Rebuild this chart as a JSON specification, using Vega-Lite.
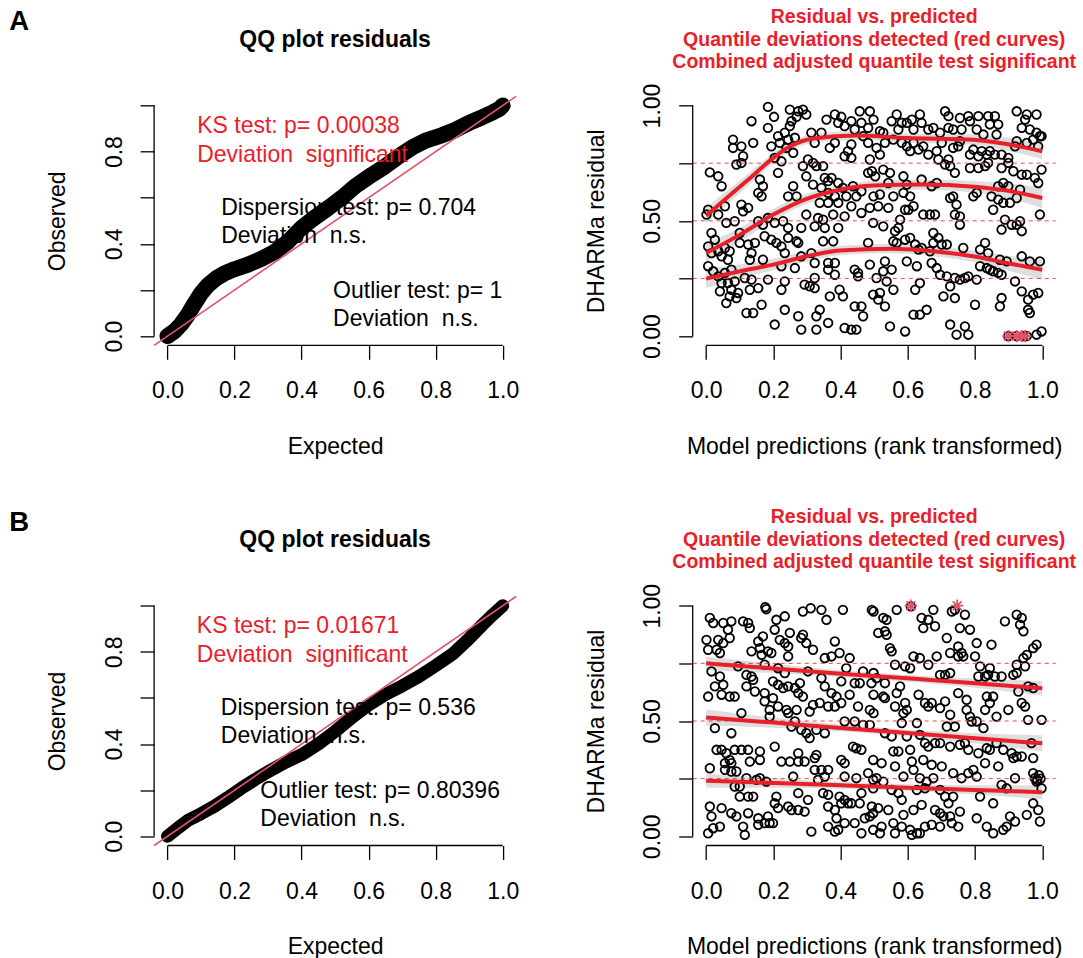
{
"$schema":"https://vega.github.io/schema/vega-lite/v6.json",
"autosize":{"type":"pad"},
"padding":{"left":9.1,"top":6.3,"right":4,"bottom":0},
"config":{"view":{"stroke":null},"font":"Liberation Sans","text":{"font":"Liberation Sans"},
"axis":{"domain":false,"grid":false,"ticks":true,"tickSize":14,"tickWidth":1.3,"tickColor":"#000000","labelFont":"Liberation Sans","labelFontSize":23,"labelColor":"#000000","labelOverlap":false,"labelFlush":false,"labelBound":false,"titleFont":"Liberation Sans","titleFontSize":23,"titleFontWeight":"normal","titleColor":"#000000"}},
"datasets":{
"qqA":[{"x":0,"y":0},{"x":0.02,"y":0.02},{"x":0.04,"y":0.05},{"x":0.06,"y":0.09},{"x":0.08,"y":0.14},{"x":0.1,"y":0.185},{"x":0.12,"y":0.22},{"x":0.145,"y":0.25},{"x":0.17,"y":0.272},{"x":0.2,"y":0.29},{"x":0.24,"y":0.31},{"x":0.28,"y":0.335},{"x":0.32,"y":0.365},{"x":0.36,"y":0.41},{"x":0.4,"y":0.47},{"x":0.44,"y":0.515},{"x":0.48,"y":0.556},{"x":0.52,"y":0.6},{"x":0.56,"y":0.65},{"x":0.61,"y":0.7},{"x":0.65,"y":0.737},{"x":0.69,"y":0.78},{"x":0.73,"y":0.818},{"x":0.77,"y":0.848},{"x":0.82,"y":0.872},{"x":0.86,"y":0.895},{"x":0.9,"y":0.925},{"x":0.94,"y":0.95},{"x":0.97,"y":0.97},{"x":0.99,"y":0.985},{"x":1,"y":1}],
"qqB":[{"x":0,"y":0},{"x":0.03,"y":0.035},{"x":0.06,"y":0.068},{"x":0.1,"y":0.098},{"x":0.14,"y":0.13},{"x":0.18,"y":0.168},{"x":0.22,"y":0.208},{"x":0.26,"y":0.245},{"x":0.3,"y":0.28},{"x":0.35,"y":0.32},{"x":0.4,"y":0.354},{"x":0.45,"y":0.4},{"x":0.5,"y":0.455},{"x":0.55,"y":0.515},{"x":0.6,"y":0.57},{"x":0.65,"y":0.615},{"x":0.7,"y":0.652},{"x":0.75,"y":0.693},{"x":0.8,"y":0.74},{"x":0.85,"y":0.79},{"x":0.9,"y":0.858},{"x":0.94,"y":0.918},{"x":0.97,"y":0.96},{"x":1,"y":1}],
"annA":[{"x":0.0886,"y":0.882,"t":"KS test: p= 0.00038","kind":"sig"},{"x":0.0886,"y":0.756,"t":"Deviation \u00a0significant","kind":"sig"},{"x":0.16,"y":0.525,"t":"Dispersion test: p= 0.704","kind":"ns"},{"x":0.16,"y":0.404,"t":"Deviation \u00a0n.s.","kind":"ns"},{"x":0.494,"y":0.1666,"t":"Outlier test: p= 1","kind":"ns"},{"x":0.494,"y":0.0438,"t":"Deviation \u00a0n.s.","kind":"ns"}],
"annB":[{"x":0.0875,"y":0.882,"t":"KS test: p= 0.01671","kind":"sig"},{"x":0.0875,"y":0.756,"t":"Deviation \u00a0significant","kind":"sig"},{"x":0.159,"y":0.525,"t":"Dispersion test: p= 0.536","kind":"ns"},{"x":0.159,"y":0.404,"t":"Deviation \u00a0n.s.","kind":"ns"},{"x":0.277,"y":0.1666,"t":"Outlier test: p= 0.80396","kind":"ns"},{"x":0.277,"y":0.0438,"t":"Deviation \u00a0n.s.","kind":"ns"}],
"qA":[{"q":"0.75","x":0,"y":0.522,"lo":0.487,"hi":0.557},{"q":"0.75","x":0.061,"y":0.599,"lo":0.569,"hi":0.629},{"q":"0.75","x":0.131,"y":0.686,"lo":0.661,"hi":0.711},{"q":"0.75","x":0.2,"y":0.773,"lo":0.751,"hi":0.795},{"q":"0.75","x":0.25,"y":0.823,"lo":0.803,"hi":0.843},{"q":"0.75","x":0.319,"y":0.857,"lo":0.837,"hi":0.877},{"q":"0.75","x":0.448,"y":0.87,"lo":0.85,"hi":0.89},{"q":"0.75","x":0.597,"y":0.859,"lo":0.839,"hi":0.879},{"q":"0.75","x":0.795,"y":0.852,"lo":0.83,"hi":0.874},{"q":"0.75","x":0.894,"y":0.833,"lo":0.805,"hi":0.861},{"q":"0.75","x":1,"y":0.802,"lo":0.767,"hi":0.837},
{"q":"0.5","x":0,"y":0.36,"lo":0.32,"hi":0.4},{"q":"0.5","x":0.101,"y":0.44,"lo":0.41,"hi":0.47},{"q":"0.5","x":0.2,"y":0.527,"lo":0.502,"hi":0.552},{"q":"0.5","x":0.299,"y":0.595,"lo":0.573,"hi":0.617},{"q":"0.5","x":0.398,"y":0.635,"lo":0.615,"hi":0.655},{"q":"0.5","x":0.498,"y":0.653,"lo":0.633,"hi":0.673},{"q":"0.5","x":0.646,"y":0.657,"lo":0.635,"hi":0.679},{"q":"0.5","x":0.795,"y":0.648,"lo":0.623,"hi":0.673},{"q":"0.5","x":0.894,"y":0.631,"lo":0.599,"hi":0.663},{"q":"0.5","x":1,"y":0.599,"lo":0.554,"hi":0.644},
{"q":"0.25","x":0,"y":0.249,"lo":0.209,"hi":0.289},{"q":"0.25","x":0.101,"y":0.281,"lo":0.251,"hi":0.311},{"q":"0.25","x":0.2,"y":0.31,"lo":0.285,"hi":0.335},{"q":"0.25","x":0.299,"y":0.346,"lo":0.324,"hi":0.368},{"q":"0.25","x":0.398,"y":0.371,"lo":0.351,"hi":0.391},{"q":"0.25","x":0.547,"y":0.379,"lo":0.359,"hi":0.399},{"q":"0.25","x":0.696,"y":0.365,"lo":0.343,"hi":0.387},{"q":"0.25","x":0.795,"y":0.346,"lo":0.321,"hi":0.371},{"q":"0.25","x":0.894,"y":0.317,"lo":0.285,"hi":0.349},{"q":"0.25","x":1,"y":0.288,"lo":0.243,"hi":0.333}],
"qB":[{"q":"0.75","x":0,"y":0.75,"lo":0.72,"hi":0.78},{"q":"0.75","x":0.2,"y":0.728,"lo":0.708,"hi":0.748},{"q":"0.75","x":0.4,"y":0.705,"lo":0.69,"hi":0.72},{"q":"0.75","x":0.6,"y":0.685,"lo":0.67,"hi":0.7},{"q":"0.75","x":0.8,"y":0.664,"lo":0.644,"hi":0.684},{"q":"0.75","x":1,"y":0.642,"lo":0.61,"hi":0.674},
{"q":"0.5","x":0,"y":0.515,"lo":0.48,"hi":0.55},{"q":"0.5","x":0.2,"y":0.493,"lo":0.471,"hi":0.515},{"q":"0.5","x":0.4,"y":0.47,"lo":0.455,"hi":0.485},{"q":"0.5","x":0.6,"y":0.448,"lo":0.433,"hi":0.463},{"q":"0.5","x":0.8,"y":0.425,"lo":0.403,"hi":0.447},{"q":"0.5","x":1,"y":0.403,"lo":0.368,"hi":0.438},
{"q":"0.25","x":0,"y":0.241,"lo":0.211,"hi":0.271},{"q":"0.25","x":0.2,"y":0.231,"lo":0.211,"hi":0.251},{"q":"0.25","x":0.4,"y":0.221,"lo":0.206,"hi":0.236},{"q":"0.25","x":0.6,"y":0.211,"lo":0.196,"hi":0.226},{"q":"0.25","x":0.8,"y":0.201,"lo":0.181,"hi":0.221},{"q":"0.25","x":1,"y":0.191,"lo":0.161,"hi":0.221}],
"stA":[{"x":0.899,"y":0},{"x":0.924,"y":0},{"x":0.939,"y":0},{"x":0.949,"y":0}],
"stB":[{"x":0.609,"y":1},{"x":0.747,"y":1}],
"hl":[{"y":0.25},{"y":0.5},{"y":0.75}],
"scA":[{"x":0.184,"y":0.994},{"x":0.135,"y":0.932},{"x":0.202,"y":0.951},{"x":0.184,"y":0.903},{"x":0.249,"y":0.982},{"x":0.274,"y":0.975},{"x":0.288,"y":0.982},{"x":0.269,"y":0.951},{"x":0.254,"y":0.932},{"x":0.298,"y":0.961},{"x":0.249,"y":0.911},{"x":0.358,"y":0.939},{"x":0.383,"y":0.961},{"x":0.402,"y":0.951},{"x":0.393,"y":0.925},{"x":0.412,"y":0.911},{"x":0.432,"y":0.932},{"x":0.457,"y":0.975},{"x":0.487,"y":0.975},{"x":0.462,"y":0.925},{"x":0.482,"y":0.903},{"x":0.442,"y":0.896},
{"x":0.08,"y":0.852},{"x":0.105,"y":0.823},{"x":0.08,"y":0.816},{"x":0.14,"y":0.838},{"x":0.11,"y":0.78},{"x":0.09,"y":0.744},{"x":0.105,"y":0.751},{"x":0.194,"y":0.823},{"x":0.214,"y":0.867},{"x":0.234,"y":0.882},{"x":0.219,"y":0.838},{"x":0.264,"y":0.86},{"x":0.239,"y":0.816},{"x":0.244,"y":0.852},{"x":0.204,"y":0.773},{"x":0.224,"y":0.758},{"x":0.259,"y":0.795},{"x":0.313,"y":0.882},{"x":0.343,"y":0.882},{"x":0.323,"y":0.838},{"x":0.368,"y":0.816},{"x":0.383,"y":0.838},{"x":0.432,"y":0.831},{"x":0.412,"y":0.78},{"x":0.432,"y":0.773},{"x":0.422,"y":0.802},{"x":0.487,"y":0.766},{"x":0.482,"y":0.838},{"x":0.467,"y":0.867},{"x":0.303,"y":0.766},{"x":0.318,"y":0.751},{"x":0.288,"y":0.737},{"x":0.328,"y":0.737},{"x":0.348,"y":0.737},{"x":0.214,"y":0.708},
{"x":0.011,"y":0.71},{"x":0.036,"y":0.693},{"x":0.046,"y":0.65},{"x":0.16,"y":0.679},{"x":0.169,"y":0.65},{"x":0.155,"y":0.621},{"x":0.165,"y":0.606},{"x":0.298,"y":0.693},{"x":0.318,"y":0.657},{"x":0.353,"y":0.686},{"x":0.363,"y":0.672},{"x":0.373,"y":0.686},{"x":0.393,"y":0.664},{"x":0.407,"y":0.643},{"x":0.437,"y":0.65},{"x":0.462,"y":0.628},{"x":0.482,"y":0.708},{"x":0.259,"y":0.65},{"x":0.244,"y":0.606},{"x":0.269,"y":0.606},{"x":0.343,"y":0.643},{"x":0.363,"y":0.621},{"x":0.383,"y":0.606},
{"x":0.006,"y":0.548},{"x":0.001,"y":0.527},{"x":0.036,"y":0.527},{"x":0.056,"y":0.563},{"x":0.105,"y":0.57},{"x":0.125,"y":0.556},{"x":0.11,"y":0.541},{"x":0.085,"y":0.498},{"x":0.06,"y":0.491},{"x":0.155,"y":0.498},{"x":0.169,"y":0.483},{"x":0.184,"y":0.512},{"x":0.204,"y":0.491},{"x":0.229,"y":0.498},{"x":0.244,"y":0.469},{"x":0.298,"y":0.527},{"x":0.333,"y":0.512},{"x":0.348,"y":0.505},{"x":0.378,"y":0.527},{"x":0.412,"y":0.519},{"x":0.432,"y":0.563},{"x":0.462,"y":0.534},{"x":0.487,"y":0.556},{"x":0.497,"y":0.491},{"x":0.283,"y":0.469},{"x":0.323,"y":0.476},{"x":0.353,"y":0.469},{"x":0.393,"y":0.469},{"x":0.338,"y":0.578},{"x":0.363,"y":0.578},{"x":0.393,"y":0.578},{"x":0.417,"y":0.606},{"x":0.447,"y":0.606},
{"x":0.016,"y":0.447},{"x":0.026,"y":0.418},{"x":0.006,"y":0.389},{"x":0.016,"y":0.36},{"x":0.036,"y":0.368},{"x":0.056,"y":0.382},{"x":0.07,"y":0.368},{"x":0.046,"y":0.346},{"x":0.065,"y":0.331},{"x":0.1,"y":0.447},{"x":0.1,"y":0.404},{"x":0.125,"y":0.397},{"x":0.145,"y":0.404},{"x":0.135,"y":0.36},{"x":0.13,"y":0.331},{"x":0.169,"y":0.331},{"x":0.174,"y":0.433},{"x":0.194,"y":0.418},{"x":0.209,"y":0.404},{"x":0.224,"y":0.389},{"x":0.234,"y":0.36},{"x":0.244,"y":0.426},{"x":0.269,"y":0.411},{"x":0.274,"y":0.404},{"x":0.283,"y":0.346},{"x":0.313,"y":0.36},{"x":0.323,"y":0.317},{"x":0.348,"y":0.411},{"x":0.378,"y":0.411},{"x":0.383,"y":0.317},{"x":0.482,"y":0.404},{"x":0.487,"y":0.31},{"x":0.442,"y":0.288},{"x":0.264,"y":0.295},{"x":0.224,"y":0.303},{"x":0.363,"y":0.317},{"x":0.363,"y":0.288},
{"x":0.006,"y":0.303},{"x":0.021,"y":0.281},{"x":0.036,"y":0.259},{"x":0.056,"y":0.274},{"x":0.075,"y":0.288},{"x":0.046,"y":0.23},{"x":0.065,"y":0.23},{"x":0.085,"y":0.237},{"x":0.041,"y":0.194},{"x":0.075,"y":0.201},{"x":0.07,"y":0.172},{"x":0.095,"y":0.187},{"x":0.115,"y":0.252},{"x":0.135,"y":0.245},{"x":0.13,"y":0.201},{"x":0.155,"y":0.208},{"x":0.184,"y":0.245},{"x":0.224,"y":0.201},{"x":0.234,"y":0.237},{"x":0.293,"y":0.223},{"x":0.308,"y":0.216},{"x":0.323,"y":0.208},{"x":0.323,"y":0.252},{"x":0.383,"y":0.266},{"x":0.452,"y":0.274},{"x":0.452,"y":0.259},{"x":0.397,"y":0.201},{"x":0.407,"y":0.172},{"x":0.497,"y":0.18},{"x":0.368,"y":0.172},
{"x":0.06,"y":0.143},{"x":0.09,"y":0.165},{"x":0.12,"y":0.1},{"x":0.14,"y":0.1},{"x":0.165,"y":0.136},{"x":0.234,"y":0.114},{"x":0.274,"y":0.086},{"x":0.328,"y":0.086},{"x":0.338,"y":0.114},{"x":0.363,"y":0.057},{"x":0.204,"y":0.05},{"x":0.283,"y":0.028},{"x":0.328,"y":0.028},{"x":0.412,"y":0.035},{"x":0.432,"y":0.028},{"x":0.447,"y":0.028},{"x":0.442,"y":0.129},{"x":0.462,"y":0.129},{"x":0.467,"y":0.086},
{"x":0.498,"y":0.939},{"x":0.567,"y":0.961},{"x":0.582,"y":0.925},{"x":0.552,"y":0.932},{"x":0.597,"y":0.925},{"x":0.612,"y":0.939},{"x":0.636,"y":0.961},{"x":0.641,"y":0.925},{"x":0.661,"y":0.896},{"x":0.711,"y":0.975},{"x":0.721,"y":0.954},{"x":0.755,"y":0.946},{"x":0.78,"y":0.954},{"x":0.785,"y":0.932},{"x":0.81,"y":0.954},{"x":0.839,"y":0.954},{"x":0.859,"y":0.954},{"x":0.844,"y":0.918},{"x":0.869,"y":0.918},{"x":0.924,"y":0.975},{"x":0.949,"y":0.939},{"x":0.954,"y":0.961},{"x":0.983,"y":0.961},{"x":0.939,"y":0.903},{"x":0.963,"y":0.896},{"x":0.983,"y":0.882},{"x":0.998,"y":0.867},{"x":0.527,"y":0.882},{"x":0.517,"y":0.889},{"x":0.572,"y":0.896},{"x":0.617,"y":0.896},{"x":0.676,"y":0.903},{"x":0.696,"y":0.882},{"x":0.721,"y":0.903},{"x":0.735,"y":0.896},{"x":0.76,"y":0.896},{"x":0.805,"y":0.896},{"x":0.825,"y":0.874},{"x":0.864,"y":0.874},
{"x":0.507,"y":0.816},{"x":0.517,"y":0.787},{"x":0.532,"y":0.838},{"x":0.557,"y":0.852},{"x":0.582,"y":0.838},{"x":0.597,"y":0.823},{"x":0.617,"y":0.838},{"x":0.632,"y":0.809},{"x":0.607,"y":0.802},{"x":0.646,"y":0.823},{"x":0.661,"y":0.787},{"x":0.686,"y":0.802},{"x":0.701,"y":0.838},{"x":0.735,"y":0.816},{"x":0.755,"y":0.845},{"x":0.75,"y":0.823},{"x":0.785,"y":0.787},{"x":0.795,"y":0.809},{"x":0.81,"y":0.78},{"x":0.82,"y":0.802},{"x":0.835,"y":0.787},{"x":0.844,"y":0.802},{"x":0.859,"y":0.787},{"x":0.879,"y":0.787},{"x":0.899,"y":0.773},{"x":0.919,"y":0.823},{"x":0.924,"y":0.845},{"x":0.954,"y":0.838},{"x":0.973,"y":0.852},{"x":0.988,"y":0.823},{"x":0.993,"y":0.867},{"x":0.691,"y":0.766},{"x":0.721,"y":0.766},{"x":0.726,"y":0.737},{"x":0.74,"y":0.708},{"x":0.711,"y":0.744},
{"x":0.493,"y":0.715},{"x":0.503,"y":0.693},{"x":0.527,"y":0.722},{"x":0.547,"y":0.708},{"x":0.542,"y":0.664},{"x":0.587,"y":0.693},{"x":0.597,"y":0.657},{"x":0.641,"y":0.679},{"x":0.671,"y":0.65},{"x":0.686,"y":0.664},{"x":0.785,"y":0.729},{"x":0.81,"y":0.729},{"x":0.83,"y":0.737},{"x":0.839,"y":0.751},{"x":0.879,"y":0.729},{"x":0.899,"y":0.751},{"x":0.914,"y":0.715},{"x":0.939,"y":0.7},{"x":0.954,"y":0.7},{"x":0.978,"y":0.686},{"x":0.988,"y":0.664},{"x":0.998,"y":0.722},{"x":0.884,"y":0.664},{"x":0.869,"y":0.65},{"x":0.899,"y":0.65},{"x":0.934,"y":0.635},{"x":0.498,"y":0.606},{"x":0.517,"y":0.614},{"x":0.557,"y":0.606},{"x":0.587,"y":0.621},{"x":0.607,"y":0.606},{"x":0.735,"y":0.606},{"x":0.795,"y":0.606},{"x":0.805,"y":0.621},{"x":0.849,"y":0.606},{"x":0.869,"y":0.592},
{"x":0.512,"y":0.563},{"x":0.542,"y":0.556},{"x":0.592,"y":0.548},{"x":0.602,"y":0.548},{"x":0.617,"y":0.563},{"x":0.646,"y":0.527},{"x":0.666,"y":0.527},{"x":0.681,"y":0.527},{"x":0.726,"y":0.599},{"x":0.745,"y":0.57},{"x":0.74,"y":0.527},{"x":0.755,"y":0.519},{"x":0.755,"y":0.483},{"x":0.854,"y":0.548},{"x":0.884,"y":0.578},{"x":0.904,"y":0.578},{"x":0.924,"y":0.599},{"x":0.993,"y":0.527},{"x":0.889,"y":0.505},{"x":0.909,"y":0.483},{"x":0.924,"y":0.483},{"x":0.934,"y":0.498},{"x":0.939,"y":0.455},{"x":0.879,"y":0.462},{"x":0.577,"y":0.505},{"x":0.572,"y":0.469},{"x":0.527,"y":0.476},{"x":0.562,"y":0.455},
{"x":0.557,"y":0.411},{"x":0.567,"y":0.404},{"x":0.592,"y":0.418},{"x":0.607,"y":0.426},{"x":0.622,"y":0.397},{"x":0.632,"y":0.375},{"x":0.666,"y":0.368},{"x":0.676,"y":0.447},{"x":0.676,"y":0.404},{"x":0.691,"y":0.426},{"x":0.701,"y":0.397},{"x":0.716,"y":0.397},{"x":0.765,"y":0.382},{"x":0.815,"y":0.375},{"x":0.83,"y":0.404},{"x":0.839,"y":0.36},{"x":0.532,"y":0.324},{"x":0.597,"y":0.324},{"x":0.641,"y":0.382},{"x":0.671,"y":0.317},{"x":0.939,"y":0.346},{"x":0.963,"y":0.324},{"x":0.993,"y":0.324},{"x":0.874,"y":0.331},{"x":0.894,"y":0.324},
{"x":0.527,"y":0.281},{"x":0.552,"y":0.288},{"x":0.507,"y":0.252},{"x":0.537,"y":0.237},{"x":0.557,"y":0.201},{"x":0.517,"y":0.187},{"x":0.627,"y":0.303},{"x":0.636,"y":0.23},{"x":0.622,"y":0.201},{"x":0.686,"y":0.295},{"x":0.696,"y":0.266},{"x":0.716,"y":0.259},{"x":0.74,"y":0.252},{"x":0.755,"y":0.245},{"x":0.77,"y":0.252},{"x":0.78,"y":0.259},{"x":0.805,"y":0.245},{"x":0.726,"y":0.216},{"x":0.815,"y":0.303},{"x":0.835,"y":0.295},{"x":0.844,"y":0.288},{"x":0.854,"y":0.281},{"x":0.869,"y":0.274},{"x":0.879,"y":0.266},{"x":0.919,"y":0.237},{"x":0.939,"y":0.194},{"x":0.973,"y":0.18},{"x":0.988,"y":0.187},{"x":0.958,"y":0.158},{"x":0.706,"y":0.172},{"x":0.74,"y":0.165},
{"x":0.512,"y":0.158},{"x":0.532,"y":0.129},{"x":0.617,"y":0.093},{"x":0.636,"y":0.093},{"x":0.656,"y":0.114},{"x":0.8,"y":0.136},{"x":0.879,"y":0.165},{"x":0.874,"y":0.129},{"x":0.958,"y":0.114},{"x":0.963,"y":0.1},{"x":0.547,"y":0.042},{"x":0.592,"y":0.02},{"x":0.726,"y":0.05},{"x":0.745,"y":0.006},{"x":0.77,"y":0.042},{"x":0.78,"y":0.006},{"x":0.983,"y":0.006},{"x":0.998,"y":0.02},{"x":0.954,"y":0},{"x":0.899,"y":0},{"x":0.924,"y":0},{"x":0.944,"y":0}],
"scB":[{"x":0.176,"y":0.994},{"x":0.179,"y":0.985},{"x":0.288,"y":0.975},{"x":0.311,"y":0.989},{"x":0.343,"y":0.982},{"x":0.358,"y":0.939},{"x":0.407,"y":0.982},{"x":0.011,"y":0.947},{"x":0.021,"y":0.925},{"x":0.051,"y":0.925},{"x":0.075,"y":0.932},{"x":0.11,"y":0.932},{"x":0.125,"y":0.925},{"x":0.13,"y":0.903},{"x":0.209,"y":0.939},{"x":0.234,"y":0.954},{"x":0.204,"y":0.896},{"x":0.249,"y":0.882},{"x":0.288,"y":0.874},{"x":0.283,"y":0.86},{"x":0.065,"y":0.896},
{"x":0.001,"y":0.852},{"x":0.036,"y":0.852},{"x":0.07,"y":0.86},{"x":0.051,"y":0.838},{"x":0.031,"y":0.809},{"x":0.041,"y":0.795},{"x":0.006,"y":0.809},{"x":0.135,"y":0.802},{"x":0.155,"y":0.845},{"x":0.169,"y":0.867},{"x":0.16,"y":0.816},{"x":0.184,"y":0.802},{"x":0.165,"y":0.787},{"x":0.194,"y":0.795},{"x":0.219,"y":0.852},{"x":0.234,"y":0.838},{"x":0.244,"y":0.823},{"x":0.244,"y":0.78},{"x":0.298,"y":0.838},{"x":0.318,"y":0.809},{"x":0.383,"y":0.845},{"x":0.397,"y":0.795},{"x":0.373,"y":0.78},{"x":0.427,"y":0.773},{"x":0.353,"y":0.773},
{"x":0.016,"y":0.715},{"x":0.041,"y":0.693},{"x":0.051,"y":0.657},{"x":0.026,"y":0.65},{"x":0.006,"y":0.606},{"x":0.046,"y":0.614},{"x":0.07,"y":0.606},{"x":0.085,"y":0.606},{"x":0.095,"y":0.737},{"x":0.12,"y":0.7},{"x":0.135,"y":0.693},{"x":0.14,"y":0.679},{"x":0.12,"y":0.65},{"x":0.145,"y":0.628},{"x":0.174,"y":0.621},{"x":0.199,"y":0.672},{"x":0.214,"y":0.657},{"x":0.199,"y":0.599},{"x":0.229,"y":0.643},{"x":0.244,"y":0.65},{"x":0.264,"y":0.643},{"x":0.279,"y":0.664},{"x":0.274,"y":0.621},{"x":0.288,"y":0.606},{"x":0.303,"y":0.715},{"x":0.343,"y":0.686},{"x":0.353,"y":0.65},{"x":0.373,"y":0.621},{"x":0.388,"y":0.606},{"x":0.402,"y":0.672},{"x":0.417,"y":0.729},{"x":0.427,"y":0.614},{"x":0.442,"y":0.664},{"x":0.457,"y":0.664},{"x":0.467,"y":0.715},{"x":0.492,"y":0.664},{"x":0.174,"y":0.744},{"x":0.214,"y":0.729},{"x":0.234,"y":0.708},
{"x":0.174,"y":0.585},{"x":0.189,"y":0.548},{"x":0.214,"y":0.563},{"x":0.239,"y":0.548},{"x":0.269,"y":0.548},{"x":0.244,"y":0.534},{"x":0.308,"y":0.541},{"x":0.318,"y":0.57},{"x":0.338,"y":0.578},{"x":0.363,"y":0.563},{"x":0.383,"y":0.563},{"x":0.402,"y":0.578},{"x":0.452,"y":0.563},{"x":0.487,"y":0.548},{"x":0.105,"y":0.534},{"x":0.189,"y":0.519},{"x":0.026,"y":0.469},{"x":0.075,"y":0.447},{"x":0.283,"y":0.462},{"x":0.298,"y":0.447},{"x":0.308,"y":0.426},{"x":0.328,"y":0.462},{"x":0.353,"y":0.447},{"x":0.412,"y":0.498},{"x":0.442,"y":0.498},{"x":0.467,"y":0.483},{"x":0.487,"y":0.483},{"x":0.254,"y":0.476},{"x":0.264,"y":0.498},
{"x":0.031,"y":0.375},{"x":0.046,"y":0.375},{"x":0.06,"y":0.36},{"x":0.07,"y":0.331},{"x":0.085,"y":0.375},{"x":0.105,"y":0.375},{"x":0.125,"y":0.375},{"x":0.16,"y":0.368},{"x":0.204,"y":0.389},{"x":0.274,"y":0.36},{"x":0.328,"y":0.353},{"x":0.437,"y":0.389},{"x":0.447,"y":0.382},{"x":0.462,"y":0.375},{"x":0.056,"y":0.317},{"x":0.075,"y":0.317},{"x":0.13,"y":0.324},{"x":0.16,"y":0.331},{"x":0.224,"y":0.324},{"x":0.249,"y":0.324},{"x":0.274,"y":0.324},{"x":0.293,"y":0.324},{"x":0.323,"y":0.339},{"x":0.402,"y":0.331},{"x":0.412,"y":0.317},{"x":0.497,"y":0.331},{"x":0.011,"y":0.295},
{"x":0.056,"y":0.288},{"x":0.075,"y":0.281},{"x":0.09,"y":0.281},{"x":0.085,"y":0.216},{"x":0.1,"y":0.216},{"x":0.12,"y":0.252},{"x":0.15,"y":0.245},{"x":0.16,"y":0.252},{"x":0.179,"y":0.237},{"x":0.125,"y":0.172},{"x":0.14,"y":0.172},{"x":0.1,"y":0.172},{"x":0.259,"y":0.259},{"x":0.323,"y":0.288},{"x":0.343,"y":0.288},{"x":0.363,"y":0.288},{"x":0.333,"y":0.245},{"x":0.353,"y":0.259},{"x":0.412,"y":0.259},{"x":0.447,"y":0.252},{"x":0.482,"y":0.274},{"x":0.497,"y":0.245},{"x":0.209,"y":0.172},{"x":0.274,"y":0.187},{"x":0.303,"y":0.158},{"x":0.348,"y":0.187},{"x":0.363,"y":0.18},{"x":0.397,"y":0.172},{"x":0.412,"y":0.158},{"x":0.422,"y":0.143},{"x":0.462,"y":0.187},{"x":0.497,"y":0.208},
{"x":0.011,"y":0.129},{"x":0.046,"y":0.122},{"x":0.075,"y":0.1},{"x":0.09,"y":0.086},{"x":0.125,"y":0.1},{"x":0.155,"y":0.078},{"x":0.184,"y":0.086},{"x":0.189,"y":0.057},{"x":0.204,"y":0.143},{"x":0.214,"y":0.122},{"x":0.244,"y":0.129},{"x":0.254,"y":0.114},{"x":0.274,"y":0.114},{"x":0.293,"y":0.107},{"x":0.363,"y":0.129},{"x":0.383,"y":0.114},{"x":0.402,"y":0.143},{"x":0.432,"y":0.143},{"x":0.457,"y":0.143},{"x":0.388,"y":0.078},{"x":0.412,"y":0.057},{"x":0.442,"y":0.057},{"x":0.472,"y":0.078},{"x":0.487,"y":0.086},{"x":0.497,"y":0.1},{"x":0.016,"y":0.086},{"x":0.021,"y":0.035},{"x":0.041,"y":0.042},{"x":0.006,"y":0.013},{"x":0.11,"y":0.042},{"x":0.115,"y":0.006},{"x":0.155,"y":0.05},{"x":0.174,"y":0.057},{"x":0.199,"y":0.057},{"x":0.313,"y":0.02},{"x":0.363,"y":0.042},{"x":0.383,"y":0.02},{"x":0.393,"y":0.028},{"x":0.462,"y":0.013},{"x":0.497,"y":0.028},
{"x":0.493,"y":0.982},{"x":0.498,"y":0.975},{"x":0.527,"y":0.947},{"x":0.537,"y":0.939},{"x":0.567,"y":0.982},{"x":0.641,"y":0.947},{"x":0.661,"y":0.939},{"x":0.676,"y":0.982},{"x":0.646,"y":0.903},{"x":0.681,"y":0.911},{"x":0.731,"y":0.975},{"x":0.77,"y":0.961},{"x":0.755,"y":0.903},{"x":0.785,"y":0.896},{"x":0.889,"y":0.932},{"x":0.924,"y":0.961},{"x":0.939,"y":0.947},{"x":0.934,"y":0.918},{"x":0.944,"y":0.889},{"x":0.512,"y":0.882},{"x":0.532,"y":0.889},{"x":0.537,"y":0.874},{"x":0.609,"y":0.997},{"x":0.74,"y":0.982},
{"x":0.547,"y":0.816},{"x":0.552,"y":0.802},{"x":0.617,"y":0.78},{"x":0.636,"y":0.773},{"x":0.686,"y":0.78},{"x":0.716,"y":0.86},{"x":0.726,"y":0.795},{"x":0.75,"y":0.823},{"x":0.76,"y":0.795},{"x":0.765,"y":0.78},{"x":0.75,"y":0.78},{"x":0.805,"y":0.838},{"x":0.8,"y":0.78},{"x":0.849,"y":0.831},{"x":0.983,"y":0.831},{"x":0.973,"y":0.816},{"x":0.954,"y":0.787},{"x":0.944,"y":0.773},{"x":0.562,"y":0.744},{"x":0.592,"y":0.737},{"x":0.607,"y":0.729},{"x":0.661,"y":0.744},{"x":0.815,"y":0.737},{"x":0.844,"y":0.729},{"x":0.924,"y":0.744},{"x":0.949,"y":0.737},{"x":0.498,"y":0.708},{"x":0.507,"y":0.686},
{"x":0.532,"y":0.664},{"x":0.577,"y":0.65},{"x":0.567,"y":0.621},{"x":0.696,"y":0.7},{"x":0.711,"y":0.7},{"x":0.726,"y":0.708},{"x":0.81,"y":0.693},{"x":0.83,"y":0.693},{"x":0.839,"y":0.7},{"x":0.859,"y":0.693},{"x":0.879,"y":0.693},{"x":0.914,"y":0.7},{"x":0.924,"y":0.708},{"x":0.958,"y":0.65},{"x":0.973,"y":0.643},{"x":0.929,"y":0.628},{"x":0.75,"y":0.621},{"x":0.775,"y":0.592},{"x":0.632,"y":0.614},{"x":0.498,"y":0.614},{"x":0.527,"y":0.606},{"x":0.592,"y":0.578},{"x":0.597,"y":0.548},
{"x":0.498,"y":0.534},{"x":0.532,"y":0.599},{"x":0.562,"y":0.563},{"x":0.587,"y":0.534},{"x":0.651,"y":0.578},{"x":0.661,"y":0.563},{"x":0.671,"y":0.578},{"x":0.696,"y":0.556},{"x":0.711,"y":0.585},{"x":0.726,"y":0.527},{"x":0.775,"y":0.548},{"x":0.785,"y":0.519},{"x":0.79,"y":0.498},{"x":0.805,"y":0.498},{"x":0.83,"y":0.548},{"x":0.835,"y":0.606},{"x":0.844,"y":0.578},{"x":0.864,"y":0.519},{"x":0.854,"y":0.606},{"x":0.899,"y":0.548},{"x":0.939,"y":0.578},{"x":0.949,"y":0.563},{"x":0.958,"y":0.505},{"x":0.998,"y":0.505},{"x":0.825,"y":0.469},{"x":0.532,"y":0.447},{"x":0.582,"y":0.491},{"x":0.627,"y":0.491},{"x":0.716,"y":0.476},{"x":0.74,"y":0.476},
{"x":0.552,"y":0.433},{"x":0.557,"y":0.368},{"x":0.572,"y":0.368},{"x":0.597,"y":0.433},{"x":0.607,"y":0.375},{"x":0.636,"y":0.44},{"x":0.651,"y":0.404},{"x":0.661,"y":0.389},{"x":0.681,"y":0.404},{"x":0.696,"y":0.404},{"x":0.726,"y":0.389},{"x":0.755,"y":0.397},{"x":0.77,"y":0.404},{"x":0.78,"y":0.375},{"x":0.81,"y":0.36},{"x":0.835,"y":0.382},{"x":0.844,"y":0.375},{"x":0.864,"y":0.404},{"x":0.884,"y":0.375},{"x":0.909,"y":0.36},{"x":0.914,"y":0.339},{"x":0.924,"y":0.346},{"x":0.939,"y":0.346},{"x":0.968,"y":0.404},{"x":0.973,"y":0.339},{"x":0.522,"y":0.317},{"x":0.562,"y":0.303},{"x":0.612,"y":0.324},{"x":0.646,"y":0.331},{"x":0.671,"y":0.31},{"x":0.701,"y":0.303},
{"x":0.507,"y":0.252},{"x":0.527,"y":0.237},{"x":0.552,"y":0.201},{"x":0.587,"y":0.259},{"x":0.617,"y":0.288},{"x":0.636,"y":0.252},{"x":0.656,"y":0.237},{"x":0.676,"y":0.252},{"x":0.735,"y":0.274},{"x":0.76,"y":0.252},{"x":0.78,"y":0.274},{"x":0.795,"y":0.288},{"x":0.805,"y":0.259},{"x":0.83,"y":0.317},{"x":0.869,"y":0.303},{"x":0.879,"y":0.223},{"x":0.894,"y":0.208},{"x":0.919,"y":0.252},{"x":0.973,"y":0.274},{"x":0.978,"y":0.252},{"x":0.983,"y":0.237},{"x":0.998,"y":0.208},{"x":0.815,"y":0.172},{"x":0.854,"y":0.143},{"x":0.572,"y":0.187},{"x":0.627,"y":0.201},{"x":0.651,"y":0.208},{"x":0.696,"y":0.201},{"x":0.711,"y":0.172},{"x":0.735,"y":0.172},
{"x":0.493,"y":0.129},{"x":0.512,"y":0.122},{"x":0.542,"y":0.114},{"x":0.582,"y":0.158},{"x":0.587,"y":0.093},{"x":0.617,"y":0.114},{"x":0.641,"y":0.136},{"x":0.681,"y":0.114},{"x":0.696,"y":0.1},{"x":0.706,"y":0.086},{"x":0.726,"y":0.086},{"x":0.755,"y":0.107},{"x":0.721,"y":0.143},{"x":0.522,"y":0.042},{"x":0.557,"y":0.057},{"x":0.582,"y":0.042},{"x":0.607,"y":0.028},{"x":0.627,"y":0.013},{"x":0.651,"y":0.042},{"x":0.671,"y":0.05},{"x":0.696,"y":0.042},{"x":0.731,"y":0.057},{"x":0.75,"y":0.042},{"x":0.805,"y":0.078},{"x":0.835,"y":0.042},{"x":0.854,"y":0.013},{"x":0.884,"y":0.028},{"x":0.894,"y":0.042},{"x":0.904,"y":0.086},{"x":0.919,"y":0.064},{"x":0.954,"y":0.093},{"x":0.973,"y":0.143},{"x":0.988,"y":0.114},{"x":0.993,"y":0.064},{"x":0.517,"y":0.013},{"x":0.562,"y":0.013},{"x":0.612,"y":0.006},{"x":0.636,"y":0.013},{"x":0.99,"y":0.265},{"x":0.995,"y":0.25},{"x":0.985,"y":0.245}]
},
"spacing":500.2,
"bounds":"flush",
"vconcat":[
{"hconcat":[
 {"width":362,"height":249,"layer":[
  {"data":{"name":"qqA"},"mark":{"type":"line","stroke":"#000000","strokeWidth":16,"strokeCap":"round","strokeJoin":"round"},
   "encoding":{"x":{"field":"x","type":"quantitative","scale":{"domain":[-0.04,1.04],"nice":false,"zero":false},"axis":{"values":[0,0.2,0.4,0.6,0.8,1],"format":".1f","title":"Expected","labelAngle":0,"labelAlign":"center","labelBaseline":"alphabetic","labelPadding":38.6,"titleBaseline":"alphabetic","titlePadding":50.6}},
   "y":{"field":"y","type":"quantitative","scale":{"domain":[-0.04,1.04],"nice":false,"zero":false},"axis":{"values":[0,0.2,0.4,0.6,0.8,1],"labelExpr":"datum.value==0||datum.value==0.4||datum.value==0.8 ? format(datum.value,'.1f') : ''","title":"Observed","labelAngle":270,"labelAlign":"center","labelBaseline":"alphabetic","labelPadding":19,"titleAngle":270,"titleAlign":"center","titleBaseline":"alphabetic","titlePadding":38.6}}}},
  {"data":{"values":[{}]},"mark":{"type":"rule","stroke":"#DF536B","strokeWidth":1.6},
   "encoding":{"x":{"datum":-0.04,"type":"quantitative","scale":{"domain":[-0.04,1.04],"nice":false,"zero":false}},"x2":{"datum":1.04},"y":{"datum":-0.04,"type":"quantitative","scale":{"domain":[-0.04,1.04],"nice":false,"zero":false}},"y2":{"datum":1.04}}},
  {"data":{"values":[{}]},"mark":{"type":"rule","stroke":"#000000","strokeWidth":1.3},
   "encoding":{"x":{"datum":0,"type":"quantitative","scale":{"domain":[-0.04,1.04],"nice":false,"zero":false}},"x2":{"datum":1},"y":{"datum":-0.04,"type":"quantitative","scale":{"domain":[-0.04,1.04],"nice":false,"zero":false}}}},
  {"data":{"values":[{}]},"mark":{"type":"rule","stroke":"#000000","strokeWidth":1.3},
   "encoding":{"x":{"datum":-0.04,"type":"quantitative","scale":{"domain":[-0.04,1.04],"nice":false,"zero":false}},"y":{"datum":0,"type":"quantitative","scale":{"domain":[-0.04,1.04],"nice":false,"zero":false}},"y2":{"datum":1}}},
  {"data":{"name":"annA"},"mark":{"type":"text","align":"left","baseline":"alphabetic","fontSize":23,"font":"Liberation Sans"},
   "encoding":{"x":{"field":"x","type":"quantitative","scale":{"domain":[-0.04,1.04],"nice":false,"zero":false}},"y":{"field":"y","type":"quantitative","scale":{"domain":[-0.04,1.04],"nice":false,"zero":false}},"text":{"field":"t"},"color":{"field":"kind","type":"nominal","scale":{"domain":["sig","ns"],"range":["#E8202A","#000000"]},"legend":null}}},
  {"data":{"values":[{}]},"mark":{"type":"text","text":"QQ plot residuals","align":"center","baseline":"alphabetic","fontSize":23,"fontWeight":"bold","color":"#000000"},
   "encoding":{"x":{"datum":0.5,"type":"quantitative","scale":{"domain":[-0.04,1.04],"nice":false,"zero":false}},"y":{"datum":1.254,"type":"quantitative","scale":{"domain":[-0.04,1.04],"nice":false,"zero":false}}}},
  {"data":{"values":[{}]},"mark":{"type":"text","text":"A","align":"center","baseline":"alphabetic","fontSize":27.5,"fontWeight":"bold","color":"#000000"},
   "encoding":{"x":{"datum":-0.4424,"type":"quantitative","scale":{"domain":[-0.04,1.04],"nice":false,"zero":false}},"y":{"datum":1.3255,"type":"quantitative","scale":{"domain":[-0.04,1.04],"nice":false,"zero":false}}}}
 ]},
 {"width":363,"height":249,"layer":[
  {"data":{"name":"scA"},"mark":{"type":"point","shape":"circle","filled":false,"size":74,"strokeWidth":1.8,"color":"#000000","opacity":1},
   "encoding":{"x":{"field":"x","type":"quantitative","scale":{"domain":[-0.04,1.04],"nice":false,"zero":false},"axis":{"values":[0,0.2,0.4,0.6,0.8,1],"format":".1f","title":"Model predictions (rank transformed)","labelAngle":0,"labelAlign":"center","labelBaseline":"alphabetic","labelPadding":38.6,"titleBaseline":"alphabetic","titlePadding":50.6}},
   "y":{"field":"y","type":"quantitative","scale":{"domain":[-0.04,1.04],"nice":false,"zero":false},"axis":{"values":[0,0.25,0.5,0.75,1],"labelExpr":"datum.value==0||datum.value==0.5||datum.value==1 ? format(datum.value,'.2f') : ''","title":"DHARMa residual","labelAngle":270,"labelAlign":"center","labelBaseline":"alphabetic","labelPadding":19,"titleAngle":270,"titleAlign":"center","titleBaseline":"alphabetic","titlePadding":38.6}}}},
  {"data":{"name":"hl"},"mark":{"type":"rule","stroke":"#F04848","strokeWidth":1,"strokeDash":[4,4]},
   "encoding":{"x":{"datum":-0.04,"type":"quantitative","scale":{"domain":[-0.04,1.04],"nice":false,"zero":false}},"x2":{"datum":1.04},"y":{"field":"y","type":"quantitative","scale":{"domain":[-0.04,1.04],"nice":false,"zero":false}}}},
  {"data":{"name":"qA"},"mark":{"type":"area","color":"#000000","opacity":0.13,"interpolate":"monotone"},
   "encoding":{"x":{"field":"x","type":"quantitative","scale":{"domain":[-0.04,1.04],"nice":false,"zero":false}},"y":{"field":"lo","type":"quantitative","scale":{"domain":[-0.04,1.04],"nice":false,"zero":false}},"y2":{"field":"hi"},"detail":{"field":"q"}}},
  {"data":{"name":"qA"},"mark":{"type":"line","stroke":"#E8202A","strokeWidth":4,"interpolate":"monotone"},
   "encoding":{"x":{"field":"x","type":"quantitative","scale":{"domain":[-0.04,1.04],"nice":false,"zero":false}},"y":{"field":"y","type":"quantitative","scale":{"domain":[-0.04,1.04],"nice":false,"zero":false}},"detail":{"field":"q"}}},
  {"data":{"name":"stA"},"mark":{"type":"point","shape":"M-1,0L1,0M0,-1L0,1M-0.72,-0.72L0.72,0.72M-0.72,0.72L0.72,-0.72","filled":false,"size":150,"strokeWidth":1.8,"color":"#DF536B","opacity":1},
   "encoding":{"x":{"field":"x","type":"quantitative","scale":{"domain":[-0.04,1.04],"nice":false,"zero":false}},"y":{"field":"y","type":"quantitative","scale":{"domain":[-0.04,1.04],"nice":false,"zero":false}}}},
  {"data":{"values":[{}]},"mark":{"type":"rule","stroke":"#000000","strokeWidth":1.3},
   "encoding":{"x":{"datum":0,"type":"quantitative","scale":{"domain":[-0.04,1.04],"nice":false,"zero":false}},"x2":{"datum":1},"y":{"datum":-0.04,"type":"quantitative","scale":{"domain":[-0.04,1.04],"nice":false,"zero":false}}}},
  {"data":{"values":[{}]},"mark":{"type":"rule","stroke":"#000000","strokeWidth":1.3},
   "encoding":{"x":{"datum":-0.04,"type":"quantitative","scale":{"domain":[-0.04,1.04],"nice":false,"zero":false}},"y":{"datum":0,"type":"quantitative","scale":{"domain":[-0.04,1.04],"nice":false,"zero":false}},"y2":{"datum":1}}},
  {"data":{"values":[{}]},"mark":{"type":"text","text":["Residual vs. predicted","Quantile deviations detected (red curves)","Combined adjusted quantile test significant"],"lineHeight":22.5,"align":"center","baseline":"alphabetic","fontSize":19.5,"fontWeight":"bold","color":"#E8202A"},
   "encoding":{"x":{"datum":0.5,"type":"quantitative","scale":{"domain":[-0.04,1.04],"nice":false,"zero":false}},"y":{"datum":1.357,"type":"quantitative","scale":{"domain":[-0.04,1.04],"nice":false,"zero":false}}}}
 ]}
],"spacing":176.6,"bounds":"flush"},
{"hconcat":[
 {"width":362,"height":249,"layer":[
  {"data":{"name":"qqB"},"mark":{"type":"line","stroke":"#000000","strokeWidth":13,"strokeCap":"round","strokeJoin":"round"},
   "encoding":{"x":{"field":"x","type":"quantitative","scale":{"domain":[-0.04,1.04],"nice":false,"zero":false},"axis":{"values":[0,0.2,0.4,0.6,0.8,1],"format":".1f","title":"Expected","labelAngle":0,"labelAlign":"center","labelBaseline":"alphabetic","labelPadding":38.6,"titleBaseline":"alphabetic","titlePadding":50.6}},
   "y":{"field":"y","type":"quantitative","scale":{"domain":[-0.04,1.04],"nice":false,"zero":false},"axis":{"values":[0,0.2,0.4,0.6,0.8,1],"labelExpr":"datum.value==0||datum.value==0.4||datum.value==0.8 ? format(datum.value,'.1f') : ''","title":"Observed","labelAngle":270,"labelAlign":"center","labelBaseline":"alphabetic","labelPadding":19,"titleAngle":270,"titleAlign":"center","titleBaseline":"alphabetic","titlePadding":38.6}}}},
  {"data":{"values":[{}]},"mark":{"type":"rule","stroke":"#DF536B","strokeWidth":1.6},
   "encoding":{"x":{"datum":-0.04,"type":"quantitative","scale":{"domain":[-0.04,1.04],"nice":false,"zero":false}},"x2":{"datum":1.04},"y":{"datum":-0.04,"type":"quantitative","scale":{"domain":[-0.04,1.04],"nice":false,"zero":false}},"y2":{"datum":1.04}}},
  {"data":{"values":[{}]},"mark":{"type":"rule","stroke":"#000000","strokeWidth":1.3},
   "encoding":{"x":{"datum":0,"type":"quantitative","scale":{"domain":[-0.04,1.04],"nice":false,"zero":false}},"x2":{"datum":1},"y":{"datum":-0.04,"type":"quantitative","scale":{"domain":[-0.04,1.04],"nice":false,"zero":false}}}},
  {"data":{"values":[{}]},"mark":{"type":"rule","stroke":"#000000","strokeWidth":1.3},
   "encoding":{"x":{"datum":-0.04,"type":"quantitative","scale":{"domain":[-0.04,1.04],"nice":false,"zero":false}},"y":{"datum":0,"type":"quantitative","scale":{"domain":[-0.04,1.04],"nice":false,"zero":false}},"y2":{"datum":1}}},
  {"data":{"name":"annB"},"mark":{"type":"text","align":"left","baseline":"alphabetic","fontSize":23,"font":"Liberation Sans"},
   "encoding":{"x":{"field":"x","type":"quantitative","scale":{"domain":[-0.04,1.04],"nice":false,"zero":false}},"y":{"field":"y","type":"quantitative","scale":{"domain":[-0.04,1.04],"nice":false,"zero":false}},"text":{"field":"t"},"color":{"field":"kind","type":"nominal","scale":{"domain":["sig","ns"],"range":["#E8202A","#000000"]},"legend":null}}},
  {"data":{"values":[{}]},"mark":{"type":"text","text":"QQ plot residuals","align":"center","baseline":"alphabetic","fontSize":23,"fontWeight":"bold","color":"#000000"},
   "encoding":{"x":{"datum":0.5,"type":"quantitative","scale":{"domain":[-0.04,1.04],"nice":false,"zero":false}},"y":{"datum":1.254,"type":"quantitative","scale":{"domain":[-0.04,1.04],"nice":false,"zero":false}}}},
  {"data":{"values":[{}]},"mark":{"type":"text","text":"B","align":"center","baseline":"alphabetic","fontSize":27.5,"fontWeight":"bold","color":"#000000"},
   "encoding":{"x":{"datum":-0.4424,"type":"quantitative","scale":{"domain":[-0.04,1.04],"nice":false,"zero":false}},"y":{"datum":1.3255,"type":"quantitative","scale":{"domain":[-0.04,1.04],"nice":false,"zero":false}}}}
 ]},
 {"width":363,"height":249,"layer":[
  {"data":{"name":"scB"},"mark":{"type":"point","shape":"circle","filled":false,"size":74,"strokeWidth":1.8,"color":"#000000","opacity":1},
   "encoding":{"x":{"field":"x","type":"quantitative","scale":{"domain":[-0.04,1.04],"nice":false,"zero":false},"axis":{"values":[0,0.2,0.4,0.6,0.8,1],"format":".1f","title":"Model predictions (rank transformed)","labelAngle":0,"labelAlign":"center","labelBaseline":"alphabetic","labelPadding":38.6,"titleBaseline":"alphabetic","titlePadding":50.6}},
   "y":{"field":"y","type":"quantitative","scale":{"domain":[-0.04,1.04],"nice":false,"zero":false},"axis":{"values":[0,0.25,0.5,0.75,1],"labelExpr":"datum.value==0||datum.value==0.5||datum.value==1 ? format(datum.value,'.2f') : ''","title":"DHARMa residual","labelAngle":270,"labelAlign":"center","labelBaseline":"alphabetic","labelPadding":19,"titleAngle":270,"titleAlign":"center","titleBaseline":"alphabetic","titlePadding":38.6}}}},
  {"data":{"name":"hl"},"mark":{"type":"rule","stroke":"#F04848","strokeWidth":1,"strokeDash":[4,4]},
   "encoding":{"x":{"datum":-0.04,"type":"quantitative","scale":{"domain":[-0.04,1.04],"nice":false,"zero":false}},"x2":{"datum":1.04},"y":{"field":"y","type":"quantitative","scale":{"domain":[-0.04,1.04],"nice":false,"zero":false}}}},
  {"data":{"name":"qB"},"mark":{"type":"area","color":"#000000","opacity":0.13,"interpolate":"monotone"},
   "encoding":{"x":{"field":"x","type":"quantitative","scale":{"domain":[-0.04,1.04],"nice":false,"zero":false}},"y":{"field":"lo","type":"quantitative","scale":{"domain":[-0.04,1.04],"nice":false,"zero":false}},"y2":{"field":"hi"},"detail":{"field":"q"}}},
  {"data":{"name":"qB"},"mark":{"type":"line","stroke":"#E8202A","strokeWidth":4,"interpolate":"monotone"},
   "encoding":{"x":{"field":"x","type":"quantitative","scale":{"domain":[-0.04,1.04],"nice":false,"zero":false}},"y":{"field":"y","type":"quantitative","scale":{"domain":[-0.04,1.04],"nice":false,"zero":false}},"detail":{"field":"q"}}},
  {"data":{"name":"stB"},"mark":{"type":"point","shape":"M-1,0L1,0M0,-1L0,1M-0.72,-0.72L0.72,0.72M-0.72,0.72L0.72,-0.72","filled":false,"size":150,"strokeWidth":1.8,"color":"#DF536B","opacity":1},
   "encoding":{"x":{"field":"x","type":"quantitative","scale":{"domain":[-0.04,1.04],"nice":false,"zero":false}},"y":{"field":"y","type":"quantitative","scale":{"domain":[-0.04,1.04],"nice":false,"zero":false}}}},
  {"data":{"values":[{}]},"mark":{"type":"rule","stroke":"#000000","strokeWidth":1.3},
   "encoding":{"x":{"datum":0,"type":"quantitative","scale":{"domain":[-0.04,1.04],"nice":false,"zero":false}},"x2":{"datum":1},"y":{"datum":-0.04,"type":"quantitative","scale":{"domain":[-0.04,1.04],"nice":false,"zero":false}}}},
  {"data":{"values":[{}]},"mark":{"type":"rule","stroke":"#000000","strokeWidth":1.3},
   "encoding":{"x":{"datum":-0.04,"type":"quantitative","scale":{"domain":[-0.04,1.04],"nice":false,"zero":false}},"y":{"datum":0,"type":"quantitative","scale":{"domain":[-0.04,1.04],"nice":false,"zero":false}},"y2":{"datum":1}}},
  {"data":{"values":[{}]},"mark":{"type":"text","text":["Residual vs. predicted","Quantile deviations detected (red curves)","Combined adjusted quantile test significant"],"lineHeight":22.5,"align":"center","baseline":"alphabetic","fontSize":19.5,"fontWeight":"bold","color":"#E8202A"},
   "encoding":{"x":{"datum":0.5,"type":"quantitative","scale":{"domain":[-0.04,1.04],"nice":false,"zero":false}},"y":{"datum":1.357,"type":"quantitative","scale":{"domain":[-0.04,1.04],"nice":false,"zero":false}}}}
 ]}
],"spacing":176.6,"bounds":"flush"}
]
}
